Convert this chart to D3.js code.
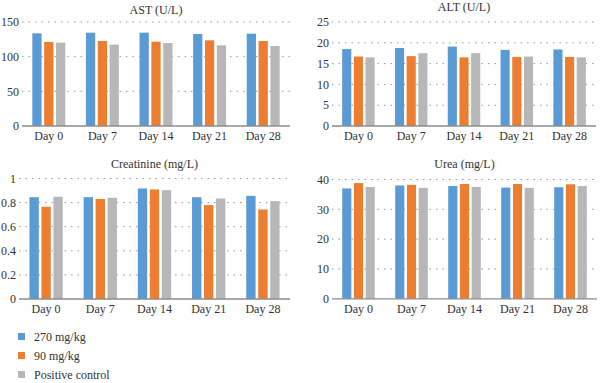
<!DOCTYPE html>
<html>
<head>
<meta charset="utf-8">
<script src="https://cdn.jsdelivr.net/npm/d3@7"></script>
<style>
  body { margin: 0; background: #fff; }
  svg text { font-family: "Liberation Serif", "DejaVu Serif", serif; fill: #333; }
</style>
</head>
<body>
<div id="chart"></div>
<script>
// data
const days = ["Day 0", "Day 7", "Day 14", "Day 21", "Day 28"];
const groups = ["270 mg/kg", "90 mg/kg", "Positive control"];
const colors = ["#5b9bd5", "#ed7d31", "#b7b7b7"];

const astHigh = [133.7, 134.6, 134.6, 132.7, 133.2];
const astLow  = [121.2, 122.6, 121.6, 123.6, 122.6];
const astCtrl = [120.2, 117.3, 119.7, 116.3, 115.4];

const altHigh = [18.5, 18.75, 19.1, 18.3, 18.4];
const altLow  = [16.7, 16.8, 16.5, 16.6, 16.6];
const altCtrl = [16.5, 17.5, 17.5, 16.7, 16.5];

const creaHigh = [0.845, 0.845, 0.917, 0.845, 0.856];
const creaLow  = [0.765, 0.83, 0.909, 0.779, 0.743];
const creaCtrl = [0.848, 0.84, 0.903, 0.834, 0.812];

const ureaHigh = [37.0, 38.0, 37.8, 37.3, 37.4];
const ureaLow  = [38.8, 38.2, 38.5, 38.5, 38.4];
const ureaCtrl = [37.5, 37.2, 37.5, 37.2, 37.8];

const astTicks = [0, 50, 100, 150];
const altTicks = [0, 5, 10, 15, 20, 25];
const creaTicks = [0, 0.2, 0.4, 0.6, 0.8, 1];
const ureaTicks = [0, 10, 20, 30, 40];

const panels = [
  { title: "AST (U/L)", series: [astHigh, astLow, astCtrl], ticks: astTicks, max: 150,
    x0: 22, x1: 290, top: 22, bottom: 126, titleY: 14 },
  { title: "ALT (U/L)", series: [altHigh, altLow, altCtrl], ticks: altTicks, max: 25,
    x0: 332, x1: 596, top: 22, bottom: 126, titleY: 11 },
  { title: "Creatinine (mg/L)", series: [creaHigh, creaLow, creaCtrl], ticks: creaTicks, max: 1,
    x0: 19, x1: 290, top: 178.5, bottom: 299, titleY: 168 },
  { title: "Urea (mg/L)", series: [ureaHigh, ureaLow, ureaCtrl], ticks: ureaTicks, max: 40,
    x0: 332, x1: 597, top: 179.5, bottom: 298.8, titleY: 168 }
];

const svg = d3.select("#chart").append("svg")
  .attr("width", 600)
  .attr("height", 383)
  .attr("font-family", "'Liberation Serif', serif")
  .attr("font-size", 12);

panels.forEach(p => {
  const g = svg.append("g");

  const x = d3.scaleBand().domain(days).range([p.x0, p.x1])
    .paddingInner(0.385).paddingOuter(0.1925);
  const xs = d3.scaleBand().domain(d3.range(3)).range([0, x.bandwidth()])
    .paddingInner(0.22);
  const y = d3.scaleLinear().domain([0, p.max]).range([p.bottom, p.top]);

  // dotted gridlines
  g.selectAll("line.grid")
    .data(p.ticks.filter(t => t > 0))
    .enter().append("line")
    .attr("class", "grid")
    .attr("x1", p.x0).attr("x2", p.x1)
    .attr("y1", d => y(d)).attr("y2", d => y(d))
    .attr("stroke", "#9a9a9a")
    .attr("stroke-width", 1)
    .attr("stroke-dasharray", "1.5,5");

  // y tick labels
  g.selectAll("text.ytick")
    .data(p.ticks)
    .enter().append("text")
    .attr("class", "ytick")
    .attr("x", p.x0 - 3)
    .attr("y", d => y(d))
    .attr("dy", "0.35em")
    .attr("text-anchor", "end")
    .style("font-size", "12px")
    .text(d => d3.format("~g")(d));

  // bars
  const dayG = g.selectAll("g.day")
    .data(days)
    .enter().append("g")
    .attr("class", "day")
    .attr("transform", d => `translate(${x(d)},0)`);

  dayG.selectAll("rect")
    .data((d, i) => p.series.map((s, k) => ({ k: k, v: s[i] })))
    .enter().append("rect")
    .attr("x", d => xs(d.k))
    .attr("width", xs.bandwidth())
    .attr("y", d => y(d.v))
    .attr("height", d => y(0) - y(d.v))
    .attr("fill", d => colors[d.k]);

  // baseline
  g.append("line")
    .attr("x1", p.x0).attr("x2", p.x1)
    .attr("y1", y(0)).attr("y2", y(0))
    .attr("stroke", "#8c8c8c")
    .attr("stroke-width", 1.3);

  // category labels
  g.selectAll("text.xtick")
    .data(days)
    .enter().append("text")
    .attr("class", "xtick")
    .attr("x", d => x(d) + x.bandwidth() / 2)
    .attr("y", p.bottom + 14)
    .attr("text-anchor", "middle")
    .style("font-size", "12px")
    .text(d => d);

  // title
  g.append("text")
    .attr("x", (p.x0 + p.x1) / 2)
    .attr("y", p.titleY)
    .attr("text-anchor", "middle")
    .style("font-size", "12px")
    .text(p.title);
});

// legend
const legend = svg.selectAll("g.legend")
  .data(groups)
  .enter().append("g")
  .attr("class", "legend")
  .attr("transform", (d, i) => `translate(18,${337 + i * 19})`);

legend.append("rect")
  .attr("x", 0).attr("y", -4)
  .attr("width", 7).attr("height", 7)
  .attr("fill", (d, i) => colors[i]);

legend.append("text")
  .attr("x", 16)
  .attr("y", 0)
  .attr("dy", "0.35em")
  .style("font-size", "12px")
  .text(d => d);
</script>
</body>
</html>
